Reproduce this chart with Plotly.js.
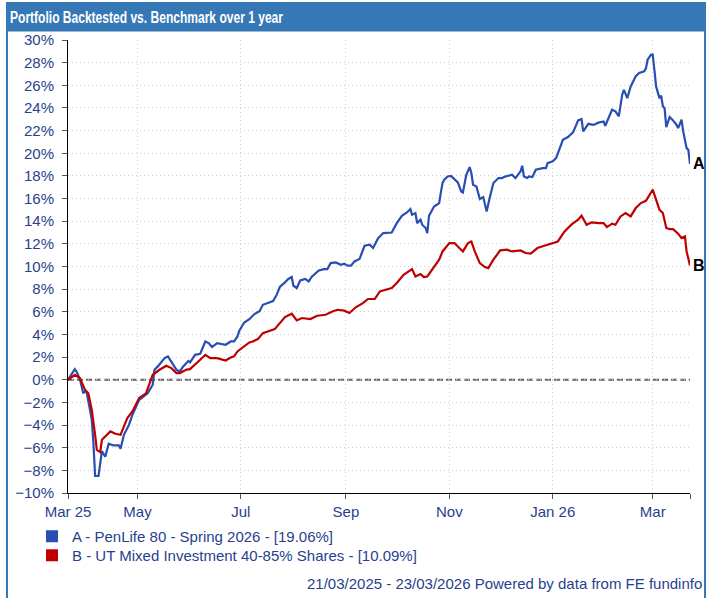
<!DOCTYPE html>
<html>
<head>
<meta charset="utf-8">
<script src="https://cdn.plot.ly/plotly-3.0.1.min.js"></script>
<style>
  html, body { margin: 0; padding: 0; background: #ffffff; }
  #chart { width: 716px; height: 598px; }
</style>
</head>
<body>
<div id="chart"></div>
<script>
// ---------------- DATA ----------------
const chartTitle = "Portfolio Backtested vs. Benchmark over 1 year";
const periodText = "21/03/2025 - 23/03/2026 Powered by data from FE fundinfo";

const nameA = "PenLife 80 - Spring 2026";
const nameB = "UT Mixed Investment 40-85% Shares";

const datesA = [
  "2025-03-21","2025-03-25","2025-03-26","2025-03-28","2025-03-30","2025-03-31","2025-04-01","2025-04-04",
  "2025-04-05","2025-04-06","2025-04-08","2025-04-10","2025-04-12","2025-04-14","2025-04-17","2025-04-20",
  "2025-04-21","2025-04-23","2025-04-26","2025-04-28","2025-05-02","2025-05-07","2025-05-10","2025-05-11",
  "2025-05-13","2025-05-17","2025-05-19","2025-05-21","2025-05-24","2025-05-26","2025-05-28","2025-05-31",
  "2025-06-01","2025-06-04","2025-06-07","2025-06-08","2025-06-10","2025-06-12","2025-06-14","2025-06-17",
  "2025-06-20","2025-06-22","2025-06-25","2025-06-27","2025-06-29","2025-06-30","2025-07-03","2025-07-06",
  "2025-07-09","2025-07-12","2025-07-14","2025-07-17","2025-07-20","2025-07-22","2025-07-24","2025-07-27",
  "2025-07-29","2025-07-31","2025-08-01","2025-08-03","2025-08-05","2025-08-08","2025-08-10","2025-08-12",
  "2025-08-16","2025-08-19","2025-08-21","2025-08-23","2025-08-26","2025-08-29","2025-08-31","2025-09-02",
  "2025-09-04","2025-09-06","2025-09-09","2025-09-12","2025-09-15","2025-09-17","2025-09-20","2025-09-23",
  "2025-09-26","2025-09-28","2025-10-01","2025-10-04","2025-10-07","2025-10-09","2025-10-10","2025-10-12",
  "2025-10-13","2025-10-15","2025-10-16","2025-10-18","2025-10-19","2025-10-20","2025-10-23","2025-10-26",
  "2025-10-27","2025-10-28","2025-10-29","2025-10-31","2025-11-02","2025-11-04","2025-11-06","2025-11-08",
  "2025-11-09","2025-11-11","2025-11-13","2025-11-14","2025-11-15","2025-11-17","2025-11-19","2025-11-21",
  "2025-11-23","2025-11-25","2025-11-27","2025-11-30","2025-12-02","2025-12-04","2025-12-06","2025-12-08",
  "2025-12-10","2025-12-13","2025-12-14","2025-12-15","2025-12-17","2025-12-18","2025-12-20","2025-12-22",
  "2025-12-26","2025-12-28","2025-12-29","2026-01-01","2026-01-03","2026-01-05","2026-01-07","2026-01-10",
  "2026-01-13","2026-01-16","2026-01-18","2026-01-19","2026-01-22","2026-01-25","2026-01-28","2026-01-31",
  "2026-02-01","2026-02-05","2026-02-07","2026-02-09","2026-02-11","2026-02-12","2026-02-14","2026-02-16",
  "2026-02-19","2026-02-21","2026-02-24","2026-02-25","2026-02-26","2026-02-28","2026-03-01","2026-03-02",
  "2026-03-03","2026-03-05","2026-03-06","2026-03-07","2026-03-08","2026-03-09","2026-03-10","2026-03-11",
  "2026-03-13","2026-03-15","2026-03-16","2026-03-18","2026-03-19","2026-03-21","2026-03-22","2026-03-23"
];
const valuesA = [
  0.00, 0.94, 0.73, 0.06, -1.20, -1.03, -1.10, -3.50,
  -5.60, -8.50, -8.50, -6.30, -6.80, -5.65, -5.80, -5.80,
  -6.10, -4.86, -3.97, -3.10, -1.77, -1.20, -0.44, 0.88,
  1.18, 1.91, 2.06, 1.62, 0.88, 0.73, 1.18, 1.66,
  1.53, 2.20, 2.30, 2.65, 3.38, 3.24, 2.89, 3.24,
  3.18, 3.09, 3.38, 3.38, 3.82, 4.30, 5.05, 5.35,
  5.80, 6.05, 6.62, 6.77, 6.95, 7.45, 8.20, 8.60,
  8.90, 9.07, 8.30, 8.10, 8.77, 8.90, 8.68, 9.12,
  9.65, 9.77, 9.77, 10.30, 10.36, 10.15, 10.24, 10.07,
  10.07, 10.45, 10.66, 11.83, 11.92, 11.63, 12.50, 12.95,
  12.95, 13.00, 13.83, 14.48, 14.77, 15.07, 14.57, 14.72,
  13.83, 14.13, 13.69, 13.40, 12.95, 14.48, 15.30, 15.60,
  16.54, 17.37, 17.66, 17.95, 18.00, 17.66, 17.42, 16.63,
  16.54, 18.10, 18.78, 18.25, 17.22, 17.07, 15.96, 16.13,
  14.86, 16.19, 17.37, 17.81, 17.81, 17.95, 18.00, 18.10,
  17.81, 18.39, 18.90, 17.95, 17.81, 17.95, 17.90, 18.54,
  18.69, 18.69, 19.13, 19.28, 19.57, 20.45, 21.19, 21.43,
  21.84, 22.90, 23.02, 21.93, 22.60, 22.50, 22.70, 22.80,
  22.43, 23.84, 23.70, 23.25, 25.17, 25.60, 24.87, 25.90,
  26.80, 27.08, 27.23, 27.50, 28.26, 28.70, 28.70, 27.37,
  25.90, 24.87, 25.08, 24.13, 23.99, 22.31, 22.81, 23.20,
  22.90, 22.52, 22.22, 22.96, 21.93, 20.45, 20.30, 19.06
];

const datesB = [
  "2025-03-21","2025-03-25","2025-03-28","2025-03-31","2025-04-02","2025-04-04","2025-04-06","2025-04-07",
  "2025-04-09","2025-04-10","2025-04-13","2025-04-15","2025-04-18","2025-04-21","2025-04-23","2025-04-25",
  "2025-04-28","2025-05-02","2025-05-06","2025-05-10","2025-05-14","2025-05-18","2025-05-21","2025-05-24",
  "2025-05-26","2025-05-30","2025-06-01","2025-06-04","2025-06-07","2025-06-10","2025-06-13","2025-06-17",
  "2025-06-20","2025-06-22","2025-06-25","2025-06-27","2025-06-29","2025-07-03","2025-07-06","2025-07-08",
  "2025-07-11","2025-07-14","2025-07-17","2025-07-21","2025-07-24","2025-07-27","2025-07-31","2025-08-03",
  "2025-08-06","2025-08-11","2025-08-15","2025-08-20","2025-08-24","2025-08-27","2025-08-31","2025-09-03",
  "2025-09-07","2025-09-11","2025-09-14","2025-09-18","2025-09-21","2025-09-25","2025-09-28","2025-10-01",
  "2025-10-05","2025-10-10","2025-10-12","2025-10-15","2025-10-17","2025-10-19","2025-10-22","2025-10-26",
  "2025-10-28","2025-11-01","2025-11-04","2025-11-07","2025-11-09","2025-11-12","2025-11-14","2025-11-16",
  "2025-11-19","2025-11-22","2025-11-24","2025-11-27","2025-12-01","2025-12-05","2025-12-08","2025-12-13",
  "2025-12-16","2025-12-19","2025-12-23","2025-12-27","2025-12-31","2026-01-04","2026-01-08","2026-01-12",
  "2026-01-16","2026-01-18","2026-01-21","2026-01-24","2026-01-28","2026-01-31","2026-02-02","2026-02-05",
  "2026-02-07","2026-02-10","2026-02-13","2026-02-16","2026-02-19","2026-02-22","2026-02-25","2026-02-27",
  "2026-03-01","2026-03-02","2026-03-05","2026-03-07","2026-03-09","2026-03-11","2026-03-13","2026-03-16",
  "2026-03-18","2026-03-20","2026-03-21","2026-03-23"
];
const valuesB = [
  0.00, 0.44, 0.15, -0.88, -1.20, -2.65, -4.86, -6.20,
  -6.40, -5.30, -4.86, -4.56, -4.77, -4.86, -4.12, -3.38,
  -2.80, -1.62, -1.20, 0.44, 0.88, 1.24, 1.03, 0.59,
  0.59, 0.90, 0.94, 1.32, 1.77, 2.20, 1.91, 1.91,
  1.77, 1.70, 1.97, 2.06, 2.50, 3.00, 3.29, 3.38,
  3.59, 4.12, 4.27, 4.47, 5.00, 5.53, 5.83, 5.24,
  5.45, 5.36, 5.65, 5.74, 6.03, 6.18, 6.10, 5.89,
  6.42, 6.77, 7.13, 7.13, 7.80, 8.00, 8.10, 8.54,
  9.27, 9.77, 9.12, 9.33, 9.07, 9.12, 9.71, 10.60,
  11.33, 12.07, 12.07, 11.63, 11.33, 12.07, 12.21, 11.33,
  10.30, 9.95, 9.86, 10.60, 11.42, 11.48, 11.33, 11.42,
  11.19, 11.13, 11.63, 11.83, 12.00, 12.21, 13.10, 13.69,
  14.13, 14.48, 13.69, 13.90, 13.83, 13.83, 13.48, 13.78,
  13.69, 14.42, 14.72, 14.42, 15.16, 15.60, 15.80, 16.25,
  16.78, 16.34, 15.00, 14.72, 13.40, 13.30, 13.30, 12.90,
  12.51, 12.65, 11.33, 10.09
];

const xTickVals = ["2025-03-21","2025-05-01","2025-07-01","2025-09-01","2025-11-01","2026-01-01","2026-03-01","2026-03-23"];
const xTickText = ["Mar 25","May","Jul","Sep","Nov","Jan 26","Mar",""];
const xRange = ["2025-03-21","2026-03-23"];
const yRange = [-10, 30];

// ---------------- STYLE ----------------
const W = 716, H = 598;
const M = {l: 68, r: 26, t: 40, b: 105};
const PW = W - M.l - M.r, PH = H - M.t - M.b;
const px2x = p => (p - M.l) / PW;          // pixel -> paper x
const px2y = p => (H - M.b - p) / PH;      // pixel -> paper y

const blue = "#2a4db3";
const red = "#c00000";
const frameBlue = "#3578b5";
const textBlue = "#283f8e";
const font = "Arial, 'Liberation Sans', sans-serif";
const FS = 15;

const lastA = valuesA[valuesA.length - 1];
const lastB = valuesB[valuesB.length - 1];

const traces = [
  {x: datesA, y: valuesA, type: "scatter", mode: "lines", line: {color: blue, width: 2.2}, showlegend: false},
  {x: datesB, y: valuesB, type: "scatter", mode: "lines", line: {color: red, width: 2.2}, showlegend: false},
  {x: [null], y: [null], type: "scatter", mode: "markers", name: "A - " + nameA + " - [" + lastA.toFixed(2) + "%]",
   marker: {symbol: "square", size: 12, color: blue}, showlegend: true, legend: "legend"},
  {x: [null], y: [null], type: "scatter", mode: "markers", name: "B - " + nameB + " - [" + lastB.toFixed(2) + "%]",
   marker: {symbol: "square", size: 12, color: red}, showlegend: true, legend: "legend2"}
];

const legendBase = {
  xanchor: "left", yanchor: "top",
  bgcolor: "rgba(0,0,0,0)", borderwidth: 0,
  font: {family: font, size: FS, color: textBlue},
  itemclick: false, itemdoubleclick: false
};

const layout = {
  width: W, height: H,
  margin: M,
  paper_bgcolor: "#ffffff",
  plot_bgcolor: "#ffffff",
  font: {family: font, size: FS, color: textBlue},
  title: {
    text: chartTitle,
    font: {family: "'Liberation Sans', Arial, sans-serif", size: 16, color: "#ffffff", weight: "bold"},
    xref: "container", yref: "container",
    x: 10 / W, xanchor: "left",
    y: 1 - 17 / H, yanchor: "middle"
  },
  xaxis: {
    type: "date",
    range: xRange,
    tickmode: "array", tickvals: xTickVals, ticktext: xTickText,
    ticks: "outside", ticklen: 5, tickwidth: 1, tickcolor: "#555",
    showline: true, linecolor: "#000", linewidth: 1,
    showgrid: true, gridcolor: "#cfcfcf", griddash: "1px,3px", gridwidth: 1,
    zeroline: false,
    tickfont: {family: font, size: FS, color: textBlue},
    fixedrange: true
  },
  yaxis: {
    range: yRange,
    tickmode: "linear", tick0: -10, dtick: 2, ticksuffix: "%",
    ticks: "outside", ticklen: 5, tickwidth: 1, tickcolor: "#555",
    ticklabelstandoff: 5,
    showline: true, linecolor: "#000", linewidth: 1,
    showgrid: true, gridcolor: "#cfcfcf", griddash: "1px,3px", gridwidth: 1,
    zeroline: false,
    tickfont: {family: font, size: FS, color: textBlue},
    fixedrange: true
  },
  legend: Object.assign({}, legendBase, {x: px2x(32), y: px2y(520)}),
  legend2: Object.assign({}, legendBase, {x: px2x(32), y: px2y(539)}),
  shapes: [
    // title bar
    {type: "rect", xref: "paper", yref: "paper", layer: "below",
     x0: px2x(6), x1: px2x(706), y0: px2y(31.5), y1: px2y(2),
     fillcolor: frameBlue, line: {width: 0}},
    // frame sides
    {type: "line", xref: "paper", yref: "paper", x0: px2x(7), x1: px2x(7), y0: px2y(31), y1: px2y(600),
     line: {color: frameBlue, width: 2}},
    {type: "line", xref: "paper", yref: "paper", x0: px2x(705), x1: px2x(705), y0: px2y(31), y1: px2y(600),
     line: {color: frameBlue, width: 2}},
    // zero line
    {type: "line", xref: "paper", yref: "y", x0: 0, x1: 1, y0: 0, y1: 0, layer: "below",
     line: {color: "#666666", width: 2, dash: "6px,3px"}}
  ],
  annotations: [
    {x: datesA[datesA.length - 1], y: lastA, xref: "x", yref: "y", text: "<b>A</b>", showarrow: false,
     xanchor: "left", yanchor: "middle", xshift: 1, font: {family: font, size: 16, color: "#000"}},
    {x: datesB[datesB.length - 1], y: lastB, xref: "x", yref: "y", text: "<b>B</b>", showarrow: false,
     xanchor: "left", yanchor: "middle", xshift: 1, font: {family: font, size: 16, color: "#000"}},
    {x: px2x(704), y: px2y(583), xref: "paper", yref: "paper", text: periodText, showarrow: false,
     xanchor: "right", yanchor: "middle", font: {family: font, size: FS, color: textBlue}}
  ]
};

Plotly.newPlot("chart", traces, layout, {staticPlot: true, displayModeBar: false}).then(function () {
  // the reference title uses a narrow face: compress the real text to the same width
  const t = document.querySelector(".gtitle");
  if (t) {
    t.setAttribute("textLength", "273");
    t.setAttribute("lengthAdjust", "spacingAndGlyphs");
  }
});
</script>
</body>
</html>
